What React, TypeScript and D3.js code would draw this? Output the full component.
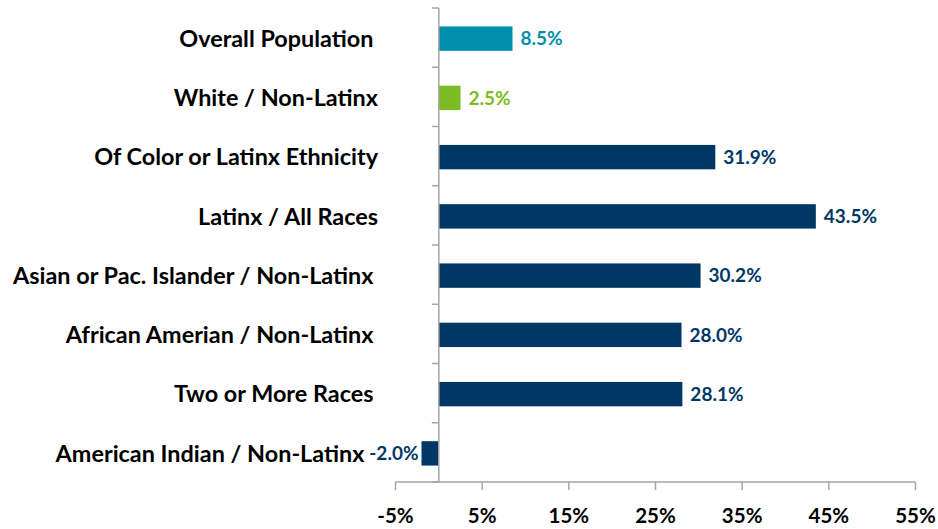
import React from "react";
import * as d3 from "d3";

const categories = [
  "Overall Population ",
  "White / Non-Latinx",
  "Of Color or Latinx Ethnicity",
  "Latinx / All Races",
  "Asian or Pac. Islander / Non-Latinx ",
  "African Amerian / Non-Latinx ",
  "Two or More Races ",
  "American Indian / Non-Latinx   ",
];
const values = [8.5, 2.5, 31.9, 43.5, 30.2, 28.0, 28.1, -2.0];
const barColors = ["#008FAC", "#7DBB24", "#003764", "#003764", "#003764", "#003764", "#003764", "#003764"];
const tickValues = [-5, 5, 15, 25, 35, 45, 55];

const W = 938;
const H = 529;
const FONT = "Lato, 'Open Sans', sans-serif";
const CAT_SIZE = 23.4;

export default function App() {
  const x = d3.scaleLinear().domain([-5, 55]).range([395.5, 915.5]);
  const y = d3.scaleBand<string>().domain(categories).range([8, 482]).paddingInner(0.59).paddingOuter(0.295);
  const x0 = x(0);
  const axisColor = "#A6A6A6";
  const bandStep = (482 - 8) / categories.length;
  const cy = (c: string) => (y(c) as number) + y.bandwidth() / 2 + 1;
  const spaceW = 0.193 * CAT_SIZE;

  return (
    <svg width={W} height={H} style={{ position: "absolute", left: 0, top: 0, background: "#fff" }}>
      {categories.map((c, i) => {
        const v = values[i];
        const x1 = x(Math.min(0, v));
        const x2 = x(Math.max(0, v));
        return <rect key={c} x={x1} y={cy(c) - 12.2} width={x2 - x1} height={24.4} fill={barColors[i]} />;
      })}
      <line x1={x0} x2={x0} y1={8} y2={482} stroke={axisColor} strokeWidth={1.5} />
      {d3.range(categories.length + 1).map((k) => (
        <line key={k} x1={x0 - 7} x2={x0} y1={8 + k * bandStep} y2={8 + k * bandStep} stroke={axisColor} strokeWidth={1.5} />
      ))}
      <line x1={x(-5)} x2={x(55)} y1={482} y2={482} stroke={axisColor} strokeWidth={1.5} />
      {tickValues.map((t) => (
        <g key={t}>
          <line x1={x(t)} x2={x(t)} y1={482} y2={490} stroke={axisColor} strokeWidth={1.5} />
          <text x={x(t)} y={523} textAnchor="middle" fontFamily={FONT} fontWeight={700} fontSize={20.5} fill="#000">
            {t + "%"}
          </text>
        </g>
      ))}
      {categories.map((c) => {
        const trimmed = c.replace(/\s+$/, "");
        const trailing = c.length - trimmed.length;
        return (
          <text key={c} x={378 - trailing * spaceW} y={cy(c)} dy="0.35em" textAnchor="end" fontFamily={FONT} fontWeight={700} fontSize={CAT_SIZE} fill="#000">
            {trimmed}
          </text>
        );
      })}
      {categories.map((c, i) => {
        const v = values[i];
        const neg = v < 0;
        return (
          <text key={c} x={neg ? x(v) - 3 : x(v) + 8} y={cy(c)} dy="0.35em" textAnchor={neg ? "end" : "start"} fontFamily={FONT} fontWeight={700} fontSize={19} fill={barColors[i]}>
            {v.toFixed(1) + "%"}
          </text>
        );
      })}
    </svg>
  );
}
